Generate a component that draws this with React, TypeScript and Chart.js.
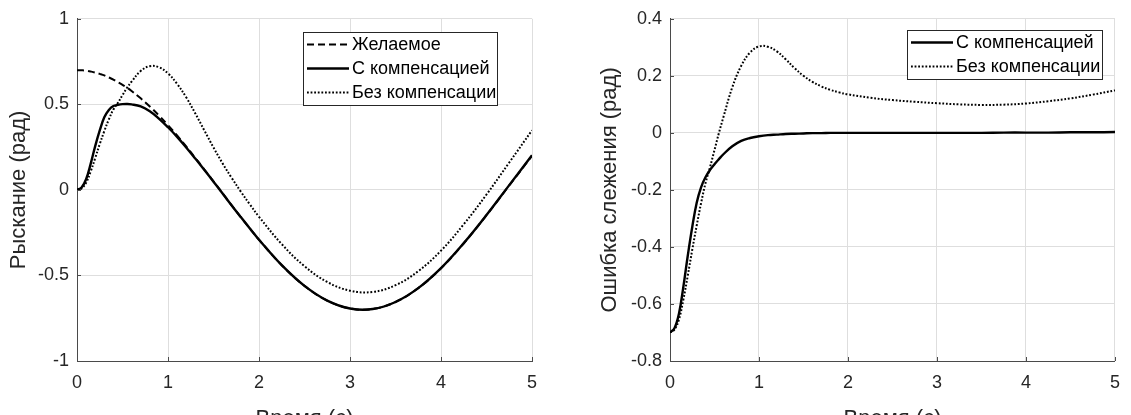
import React, { useEffect, useRef } from "react";
import { Chart, registerables } from "chart.js";

Chart.register(...registerables);

// ---------- data ----------
const TIME = [
  0, 0.05, 0.1, 0.15, 0.2, 0.25, 0.3, 0.35, 0.4, 0.45, 0.5, 0.55, 0.6,
  0.7, 0.8, 0.9, 1.0, 1.1, 1.2, 1.3, 1.4, 1.5, 1.6, 1.7, 1.8, 1.9, 2.0,
  2.25, 2.5, 2.75, 3.0, 3.25, 3.5, 3.75, 4.0, 4.25, 4.5, 4.75, 5.0,
];

const YAW_DESIRED = [
  0.7, 0.699, 0.697, 0.692, 0.686, 0.678, 0.669, 0.657, 0.645, 0.629, 0.614, 0.597, 0.578,
  0.535, 0.488, 0.435, 0.378, 0.318, 0.254, 0.187, 0.119, 0.05, -0.02, -0.09, -0.159, -0.226, -0.291,
  -0.44, -0.561, -0.647, -0.693, -0.696, -0.655, -0.574, -0.458, -0.312, -0.148, 0.026, 0.199,
];

const YAW_COMP = [
  0.0, 0.014, 0.062, 0.152, 0.256, 0.348, 0.424, 0.467, 0.49, 0.497, 0.501, 0.502, 0.5,
  0.488, 0.46, 0.417, 0.366, 0.31, 0.248, 0.183, 0.116, 0.048, -0.021, -0.091, -0.159, -0.226, -0.291,
  -0.44, -0.561, -0.647, -0.693, -0.696, -0.655, -0.574, -0.457, -0.311, -0.147, 0.028, 0.202,
];

const YAW_NOCOMP = [
  0.0, 0.009, 0.042, 0.107, 0.186, 0.268, 0.344, 0.412, 0.47, 0.509, 0.554, 0.597, 0.633,
  0.695, 0.723, 0.717, 0.681, 0.62, 0.541, 0.447, 0.347, 0.248, 0.155, 0.07, -0.01, -0.085, -0.157,
  -0.317, -0.446, -0.538, -0.589, -0.596, -0.557, -0.475, -0.355, -0.201, -0.027, 0.16, 0.348,
];

const ERR_COMP = [
  -0.7, -0.685, -0.635, -0.54, -0.43, -0.33, -0.245, -0.19, -0.155, -0.13, -0.11, -0.092, -0.075,
  -0.047, -0.028, -0.018, -0.012, -0.008, -0.006, -0.004, -0.003, -0.002, -0.001, -0.001, 0, 0, 0,
  0, 0, 0, 0, 0, 0, 0.001, 0.001, 0.001, 0.002, 0.002, 0.003,
];

const ERR_NOCOMP = [
  -0.7, -0.69, -0.655, -0.585, -0.5, -0.41, -0.325, -0.245, -0.175, -0.12, -0.06, 0.0, 0.055,
  0.16, 0.235, 0.282, 0.303, 0.302, 0.286, 0.258, 0.227, 0.2, 0.179, 0.163, 0.151, 0.142, 0.135,
  0.123, 0.115, 0.109, 0.104, 0.1, 0.098, 0.099, 0.103, 0.111, 0.121, 0.134, 0.149,
];

const X_TICKS = [0, 1, 2, 3, 4, 5];
const YAW_TICKS = [-1, -0.5, 0, 0.5, 1];
const ERR_TICKS = [-0.8, -0.6, -0.4, -0.2, 0, 0.2, 0.4];

const LABEL_DESIRED = "Желаемое";
const LABEL_COMP = "С компенсацией";
const LABEL_NOCOMP = "Без компенсации";
const X_TITLE = "Время (с)";
const YAW_TITLE = "Рыскание (рад)";
const ERR_TITLE = "Ошибка слежения (рад)";

// ---------- styles ----------
const FONT = "'Liberation Sans', Arial, Helvetica, sans-serif";
const GRID = "#dedede";
const AXIS = "#4a4a4a";
const TEXT = "#262626";
const TICK_SIZE = 18;
const TITLE_SIZE = 22;
const LEGEND_SIZE = 18;
const CANVAS_H = 440;
const PLOT_TOP = 15;
const PLOT_BOTTOM = 361;

const STYLE_DESIRED = { borderColor: "#000", borderWidth: 2, borderDash: [7, 4] };
const STYLE_COMP = { borderColor: "#000", borderWidth: 2.4, borderDash: [] as number[] };
const STYLE_NOCOMP = { borderColor: "#000", borderWidth: 2, borderDash: [1.8, 1.8] };

const toPoints = (ys: number[]) => TIME.map((t, i) => ({ x: t, y: ys[i] }));

const fmt = (v: number) => String(Number(v.toFixed(2)));

const matlabDecor = {
  id: "matlabDecor",
  afterDatasetsDraw(chart: any, _args: any, opts: any) {
    const { ctx, chartArea: a, scales } = chart;
    ctx.save();
    // inner tick marks
    ctx.strokeStyle = AXIS;
    ctx.lineWidth = 1;
    ctx.setLineDash([]);
    scales.x.ticks.forEach((t: any) => {
      const px = Math.round(scales.x.getPixelForValue(t.value)) + 0.5;
      ctx.beginPath();
      ctx.moveTo(px, a.bottom);
      ctx.lineTo(px, a.bottom - 4);
      ctx.stroke();
    });
    scales.y.ticks.forEach((t: any) => {
      const py = Math.round(scales.y.getPixelForValue(t.value)) + 0.5;
      ctx.beginPath();
      ctx.moveTo(a.left, py);
      ctx.lineTo(a.left + 4, py);
      ctx.stroke();
    });
    // boxed legend
    const items = chart.data.datasets;
    const w = opts.width;
    const h = items.length * opts.rowH + 2 * opts.pad;
    const x0 = Math.round(a.right - opts.right - w);
    const y0 = Math.round(a.top + opts.top);
    ctx.fillStyle = "#fff";
    ctx.fillRect(x0, y0, w, h);
    ctx.strokeStyle = "#262626";
    ctx.lineWidth = 1;
    ctx.strokeRect(x0 + 0.5, y0 + 0.5, w, h);
    ctx.font = `${LEGEND_SIZE}px ${FONT}`;
    ctx.textBaseline = "middle";
    ctx.textAlign = "left";
    items.forEach((d: any, i: number) => {
      const cy = y0 + opts.pad + opts.rowH * (i + 0.5);
      ctx.setLineDash(d.borderDash || []);
      ctx.lineWidth = d.borderWidth;
      ctx.strokeStyle = d.borderColor;
      ctx.beginPath();
      ctx.moveTo(x0 + opts.sampleStart, cy);
      ctx.lineTo(x0 + opts.sampleEnd, cy);
      ctx.stroke();
      ctx.setLineDash([]);
      ctx.fillStyle = "#000";
      ctx.fillText(d.label, x0 + opts.textX, cy + 1);
    });
    ctx.restore();
  },
};

type PanelCfg = {
  datasets: any[];
  yMin: number;
  yMax: number;
  yTicks: number[];
  yTitle: string;
  yAxisWidth: number;
  yTitlePad: number;
  rightPad: number;
  legend: any;
};

function buildConfig(cfg: PanelCfg): any {
  return {
    type: "line",
    data: { datasets: cfg.datasets },
    plugins: [matlabDecor],
    options: {
      responsive: false,
      animation: false,
      devicePixelRatio: 1,
      layout: { padding: { left: 0, right: cfg.rightPad, top: PLOT_TOP, bottom: 0 } },
      elements: {
        point: { radius: 0, hoverRadius: 0 },
        line: { tension: 0.4, fill: false },
      },
      plugins: {
        legend: { display: false },
        tooltip: { enabled: false },
        matlabDecor: cfg.legend,
      },
      scales: {
        x: {
          type: "linear",
          min: 0,
          max: 5,
          afterBuildTicks: (s: any) => {
            s.ticks = X_TICKS.map((v) => ({ value: v }));
          },
          afterFit: (s: any) => {
            s.height = CANVAS_H - PLOT_BOTTOM;
          },
          grid: { color: GRID, drawTicks: false, lineWidth: 1 },
          border: { display: true, color: AXIS, width: 1 },
          ticks: {
            padding: 11,
            color: TEXT,
            font: { family: FONT, size: TICK_SIZE },
            maxRotation: 0,
            autoSkip: false,
            callback: (v: number) => fmt(v),
          },
          title: {
            display: true,
            text: X_TITLE,
            color: TEXT,
            font: { family: FONT, size: TITLE_SIZE },
            padding: { top: 0, bottom: 8 },
          },
        },
        y: {
          type: "linear",
          min: cfg.yMin,
          max: cfg.yMax,
          afterBuildTicks: (s: any) => {
            s.ticks = cfg.yTicks.map((v) => ({ value: v }));
          },
          afterFit: (s: any) => {
            s.width = cfg.yAxisWidth;
          },
          grid: { color: GRID, drawTicks: false, lineWidth: 1 },
          border: { display: true, color: AXIS, width: 1 },
          ticks: {
            padding: 8,
            color: TEXT,
            font: { family: FONT, size: TICK_SIZE },
            autoSkip: false,
            callback: (v: number) => fmt(v),
          },
          title: {
            display: true,
            text: cfg.yTitle,
            color: TEXT,
            font: { family: FONT, size: TITLE_SIZE },
            padding: { top: cfg.yTitlePad, bottom: 0 },
          },
        },
      },
    },
  };
}

function Panel({ cfg, left, width }: { cfg: PanelCfg; left: number; width: number }) {
  const ref = useRef<HTMLCanvasElement | null>(null);
  useEffect(() => {
    if (!ref.current) return;
    const chart = new Chart(ref.current, buildConfig(cfg));
    return () => chart.destroy();
  }, []);
  return (
    <canvas
      ref={ref}
      width={width}
      height={CANVAS_H}
      style={{ position: "absolute", left, top: 0, width, height: CANVAS_H }}
    />
  );
}

const yawPanel: PanelCfg = {
  datasets: [
    { label: LABEL_DESIRED, data: toPoints(YAW_DESIRED), ...STYLE_DESIRED },
    { label: LABEL_COMP, data: toPoints(YAW_COMP), ...STYLE_COMP },
    { label: LABEL_NOCOMP, data: toPoints(YAW_NOCOMP), ...STYLE_NOCOMP },
  ],
  yMin: -1,
  yMax: 1,
  yTicks: YAW_TICKS,
  yTitle: YAW_TITLE,
  yAxisWidth: 77,
  yTitlePad: 6,
  rightPad: 34,
  legend: { width: 194, right: 35, top: 13, rowH: 24, pad: 0.5, sampleStart: 4, sampleEnd: 46, textX: 49 },
};

const errPanel: PanelCfg = {
  datasets: [
    { label: LABEL_COMP, data: toPoints(ERR_COMP), ...STYLE_COMP },
    { label: LABEL_NOCOMP, data: toPoints(ERR_NOCOMP), ...STYLE_NOCOMP },
  ],
  yMin: -0.8,
  yMax: 0.4,
  yTicks: ERR_TICKS,
  yTitle: ERR_TITLE,
  yAxisWidth: 104,
  yTitlePad: 31,
  rightPad: 6,
  legend: { width: 195, right: 13, top: 11, rowH: 24, pad: 0.5, sampleStart: 4, sampleEnd: 46, textX: 49 },
};

export default function App() {
  useEffect(() => {
    document.body.style.margin = "0";
    document.body.style.background = "#fff";
  }, []);
  return (
    <div style={{ position: "relative", width: 1131, height: 415, overflow: "hidden", background: "#fff" }}>
      <Panel cfg={yawPanel} left={0} width={566} />
      <Panel cfg={errPanel} left={566} width={565} />
    </div>
  );
}
